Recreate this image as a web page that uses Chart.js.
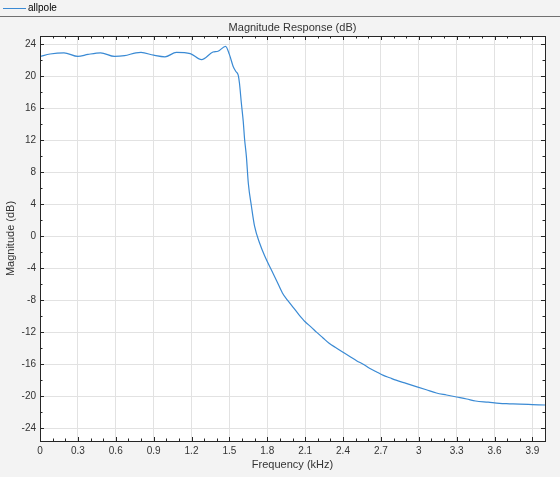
<!DOCTYPE html>
<html>
<head>
<meta charset="utf-8">
<script src="https://cdn.jsdelivr.net/npm/chart.js@4.4.1/dist/chart.umd.min.js"></script>
<style>
  html, body { margin: 0; padding: 0; background: #f3f3f3; }
  .chart-container { width: 560px; height: 477px; position: relative; }
</style>
</head>
<body>
<div class="chart-container"><canvas id="myChart"></canvas></div>
<script>
// values
const seriesName = 'allpole';
const chartTitle = 'Magnitude Response (dB)';
const xLabel = 'Frequency (kHz)';
const yLabel = 'Magnitude (dB)';

const freqKHz = [
  0.00, 0.08, 0.19, 0.30, 0.38, 0.48, 0.59, 0.67, 0.76, 0.80,
  0.90, 0.99, 1.08, 1.19, 1.28, 1.37, 1.41, 1.47, 1.50, 1.53,
  1.55, 1.57, 1.58, 1.595, 1.61, 1.62, 1.635, 1.65, 1.675, 1.70,
  1.74, 1.78, 1.835, 1.875, 1.92, 1.96, 2.00, 2.05, 2.10, 2.15,
  2.19, 2.24, 2.29, 2.35, 2.40, 2.46, 2.51, 2.56, 2.61, 2.67,
  2.72, 2.77, 2.82, 2.90, 2.98, 3.06, 3.14, 3.22, 3.30, 3.38,
  3.45, 3.55, 3.64, 3.72, 3.80, 3.90, 4.00
];
const magDB = [
  22.45, 22.75, 22.9, 22.45, 22.7, 22.9, 22.45, 22.55, 22.9, 22.95,
  22.6, 22.4, 22.95, 22.8, 22.05, 23.0, 23.1, 23.7, 22.7, 21.2,
  20.6, 20.1, 19.1, 16.6, 14.3, 12.2, 9.9, 6.6, 3.7, 1.2,
  -0.9, -2.5, -4.3, -5.6, -7.1, -8.0, -8.8, -9.8, -10.7, -11.4,
  -12.0, -12.7, -13.4, -14.0, -14.5, -15.1, -15.6, -16.0, -16.5, -17.0,
  -17.4, -17.7, -18.0, -18.4, -18.8, -19.2, -19.6, -19.85, -20.1, -20.35,
  -20.6, -20.75, -20.9, -20.95, -21.0, -21.05, -21.1
];

const xMin = 0, xMax = 4;
const yMin = -25.6, yMax = 25;

const lineColor = '#3a8ad4';
const gridColor = '#e2e2e2';
const axisColor = '#262626';
const textColor = '#333333';
const fontFamily = '"Liberation Sans", Arial, Helvetica, sans-serif';

const isMajorX = v => Math.round(v * 10) % 3 === 0;
const isMajorY = v => Math.abs(v - Math.round(v)) < 1e-9 && Math.round(v) % 4 === 0;
const isMinorY = v => Math.abs(v - Math.round(v)) < 1e-9 && Math.round(v) % 2 === 0;

const matlabAxes = {
  id: 'matlabAxes',
  beforeDraw(chart) {
    const { ctx, chartArea: a, width } = chart;
    ctx.save();
    ctx.fillStyle = '#f3f3f3';
    ctx.fillRect(0, 0, width, chart.height);
    ctx.fillStyle = '#ffffff';
    ctx.fillRect(a.left, a.top, a.right - a.left, a.bottom - a.top);

    // legend strip
    ctx.strokeStyle = lineColor;
    ctx.lineWidth = 1;
    ctx.beginPath();
    ctx.moveTo(3, 8.5);
    ctx.lineTo(26, 8.5);
    ctx.stroke();
    ctx.fillStyle = '#000000';
    ctx.font = '10px ' + fontFamily;
    ctx.textBaseline = 'middle';
    ctx.textAlign = 'left';
    ctx.fillText(seriesName, 28, 8.5);

    ctx.strokeStyle = '#707070';
    ctx.beginPath();
    ctx.moveTo(0, 16.5);
    ctx.lineTo(width, 16.5);
    ctx.stroke();

    // title
    ctx.fillStyle = textColor;
    ctx.font = '11px ' + fontFamily;
    ctx.textAlign = 'center';
    ctx.fillText(chartTitle, (a.left + a.right) / 2, 28);
    ctx.restore();
  },
  afterDraw(chart) {
    const { ctx, chartArea: a, scales } = chart;
    ctx.save();
    ctx.strokeStyle = axisColor;
    ctx.lineWidth = 1;
    ctx.beginPath();
    scales.x.ticks.forEach(t => {
      const len = isMajorX(t.value) ? 4 : 2.5;
      const px = Math.round(scales.x.getPixelForValue(t.value)) + 0.5;
      ctx.moveTo(px, a.bottom);
      ctx.lineTo(px, a.bottom - len);
      ctx.moveTo(px, a.top);
      ctx.lineTo(px, a.top + len);
    });
    scales.y.ticks.forEach(t => {
      if (!isMinorY(t.value)) return;
      const len = isMajorY(t.value) ? 4 : 2.5;
      const py = Math.round(scales.y.getPixelForValue(t.value)) + 0.5;
      ctx.moveTo(a.left, py);
      ctx.lineTo(a.left + len, py);
      ctx.moveTo(a.right, py);
      ctx.lineTo(a.right - len, py);
    });
    ctx.stroke();
    ctx.strokeRect(Math.round(a.left) + 0.5, Math.round(a.top) + 0.5,
      Math.round(a.right - a.left), Math.round(a.bottom - a.top));
    ctx.restore();
  }
};

new Chart(document.getElementById('myChart'), {
  type: 'line',
  data: {
    datasets: [{
      label: seriesName,
      data: freqKHz.map((f, i) => ({ x: f, y: magDB[i] })),
      borderColor: lineColor,
      borderWidth: 1.2,
      pointRadius: 0,
      cubicInterpolationMode: 'monotone',
      fill: false
    }]
  },
  options: {
    responsive: true,
    maintainAspectRatio: false,
    animation: false,
    devicePixelRatio: 1,
    layout: { padding: { left: 0, top: 36, right: 15, bottom: 0 } },
    plugins: {
      legend: { display: false },
      title: { display: false },
      tooltip: { enabled: false }
    },
    scales: {
      x: {
        type: 'linear',
        min: xMin,
        max: xMax,
        afterFit: s => { s.height = 36; },
        border: { display: false },
        grid: {
          drawTicks: false,
          color: c => (c.tick && isMajorX(c.tick.value)) ? gridColor : 'rgba(0,0,0,0)'
        },
        ticks: {
          stepSize: 0.1,
          maxTicksLimit: 1000,
          includeBounds: false,
          autoSkip: false,
          maxRotation: 0,
          padding: 4,
          color: textColor,
          font: { family: fontFamily, size: 10 },
          callback: v => isMajorX(v) ? String(Math.round(v * 10) / 10) : ''
        },
        title: {
          display: true,
          text: xLabel,
          color: textColor,
          font: { family: fontFamily, size: 11 },
          padding: { top: 0, bottom: 5 }
        }
      },
      y: {
        type: 'linear',
        min: yMin,
        max: yMax,
        afterFit: s => { s.width = 40; },
        border: { display: false },
        grid: {
          drawTicks: false,
          color: c => (c.tick && isMajorY(c.tick.value)) ? gridColor : 'rgba(0,0,0,0)'
        },
        ticks: {
          stepSize: 2,
          maxTicksLimit: 1000,
          includeBounds: false,
          autoSkip: false,
          padding: 4,
          color: textColor,
          font: { family: fontFamily, size: 10 },
          callback: v => isMajorY(v) ? String(Math.round(v)) : ''
        },
        title: {
          display: true,
          text: yLabel,
          color: textColor,
          font: { family: fontFamily, size: 11 },
          padding: { top: 4, bottom: 0 }
        }
      }
    }
  },
  plugins: [matlabAxes]
});
</script>
</body>
</html>
